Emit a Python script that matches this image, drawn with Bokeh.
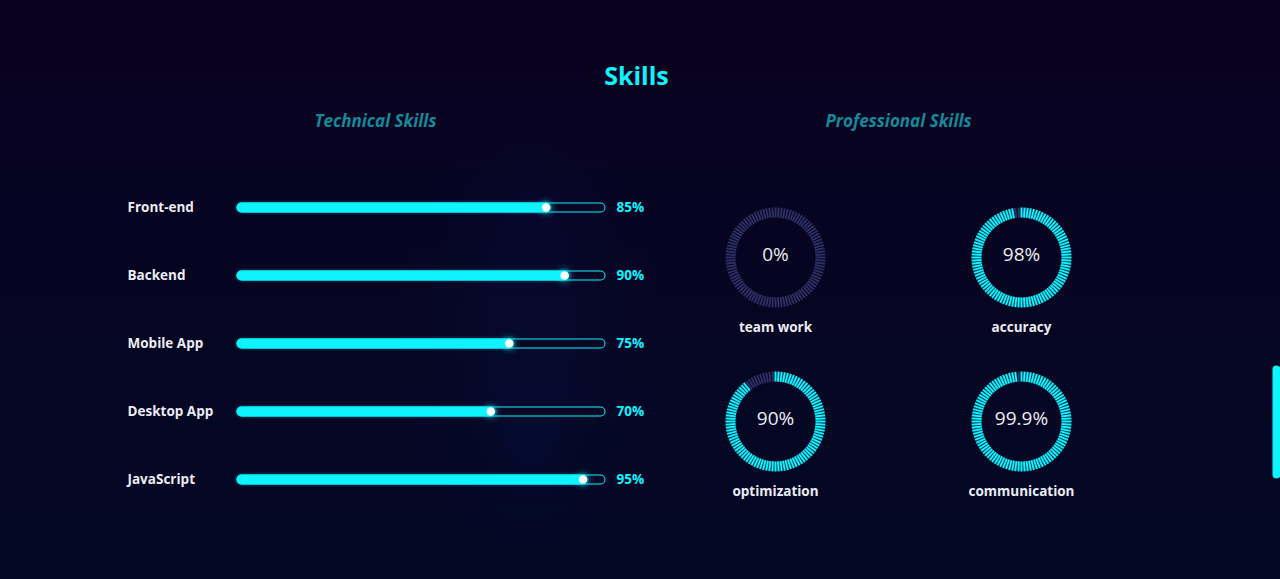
import numpy as np
from bokeh.plotting import figure
from bokeh.models import Range1d
from bokeh.embed import file_html
from bokeh.resources import INLINE
from bokeh.core.properties import value

# ---------------- data ----------------
title_text = "Skills"
tech_title = "Technical Skills"
prof_title = "Professional Skills"
tech_skills = ["Front-end", "Backend", "Mobile App", "Desktop App", "JavaScript"]
tech_values = [85, 90, 75, 70, 95]
prof_skills = ["team work", "accuracy", "optimization", "communication"]
prof_values = [0, 98, 90, 99.9]
prof_labels = ["0%", "98%", "90%", "99.9%"]

# ---------------- style ----------------
W, H = 1280, 579
CYAN = "#0ef4ff"
TEAL = "#14899a"
WHITE = "#ececf4"
DIM = "#2e3064"
FONT = "Open Sans"
BG = "#08041f"

p = figure(width=W, height=H, x_range=Range1d(0, W), y_range=Range1d(H, 0),
           output_backend="svg", toolbar_location=None, min_border=0)
p.axis.visible = False
p.grid.visible = False
p.outline_line_color = None
p.background_fill_color = BG
p.border_fill_color = BG

# background vertical gradient
n = 64
top = np.array([10, 2, 31])
bot = np.array([3, 9, 37])
img = np.zeros((n, 1), dtype=np.uint32)
view = img.view(dtype=np.uint8).reshape((n, 1, 4))
for r in range(n):
    t = r / (n - 1)
    c = top * (1 - t) + bot * t
    view[r, 0, 0:3] = c.astype(np.uint8)
    view[r, 0, 3] = 255
p.image_rgba(image=[img], x=-10, y=-10, dw=W + 20, dh=H + 20)

# soft glow behind bars
for ww, hh, a in [(260, 420, 0.025), (200, 380, 0.03), (140, 330, 0.035), (90, 280, 0.035)]:
    p.ellipse(x=530, y=330, width=ww, height=hh, fill_color="#1b3a8a", fill_alpha=a, line_color=None)

# titles
p.text(x=[636], y=[74], text=[title_text], text_color=CYAN, text_font=value(FONT),
       text_font_style="bold", text_font_size="25px", text_align="center", text_baseline="middle")
p.text(x=[375, 898], y=[120, 120], text=[tech_title, prof_title], text_color=TEAL,
       text_font=value(FONT), text_font_style="bold italic", text_font_size="17px",
       text_align="center", text_baseline="middle")

# ---------------- technical bars ----------------
x0, x1 = 236, 605
ys = [207 + 68 * i for i in range(len(tech_skills))]
xf = [x0 + v / 100 * (x1 - x0) for v in tech_values]
ty = [y - 1 for y in ys]

p.text(x=[127] * len(ys), y=ty, text=tech_skills, text_color=WHITE, text_font=value(FONT),
       text_font_style="bold", text_font_size="13.5px", text_align="left", text_baseline="middle")
p.text(x=[616] * len(ys), y=ty, text=[f"{v}%" for v in tech_values], text_color=CYAN,
       text_font=value(FONT), text_font_style="bold", text_font_size="13.5px",
       text_align="left", text_baseline="middle")

# track outline
p.segment(x0=[x0 + 5] * len(ys), x1=[x1 - 5] * len(ys), y0=ys, y1=ys,
          line_color=CYAN, line_width=10, line_cap="round")
p.segment(x0=[x0 + 5] * len(ys), x1=[x1 - 5] * len(ys), y0=ys, y1=ys,
          line_color="#070624", line_width=8, line_cap="round")
# fill glow + fill
p.segment(x0=[x0 + 5] * len(ys), x1=[f - 5 for f in xf], y0=ys, y1=ys,
          line_color=CYAN, line_alpha=0.10, line_width=14, line_cap="round")
p.segment(x0=[x0 + 5] * len(ys), x1=[f - 5 for f in xf], y0=ys, y1=ys,
          line_color=CYAN, line_width=10, line_cap="round")
# knob
kx = [f - 4 for f in xf]
for rr, a in [(11, 0.06), (8, 0.12), (6, 0.25)]:
    p.circle(x=kx, y=ys, radius=rr, fill_color=CYAN, fill_alpha=a, line_color=None)
p.circle(x=kx, y=ys, radius=4.3, fill_color="#f4ffff", line_color=None)

# ---------------- professional circles ----------------
cx = [775, 1021, 775, 1021]
cy = [257, 257, 421, 421]
r_in, r_out = 40, 50
nt = 100
ax0, ax1, ay0, ay1, acol = [], [], [], [], []
gx0, gx1, gy0, gy1 = [], [], [], []
for c_x, c_y, v in zip(cx, cy, prof_values):
    for i in range(nt):
        th = np.pi / 2 - i * 2 * np.pi / nt
        xa, ya = c_x + r_in * np.cos(th), c_y - r_in * np.sin(th)
        xb, yb = c_x + r_out * np.cos(th), c_y - r_out * np.sin(th)
        active = (i + 1) <= v
        ax0.append(xa); ax1.append(xb); ay0.append(ya); ay1.append(yb)
        acol.append(CYAN if active else DIM)
        if active:
            gx0.append(xa); gx1.append(xb); gy0.append(ya); gy1.append(yb)

p.segment(x0=gx0, x1=gx1, y0=gy0, y1=gy1, line_color=CYAN, line_alpha=0.10, line_width=5)
p.segment(x0=ax0, x1=ax1, y0=ay0, y1=ay1, line_color=acol, line_width=1.9)

p.text(x=cx, y=[y - 4 for y in cy], text=prof_labels, text_color=WHITE, text_font=value(FONT),
       text_font_size="19px", text_align="center", text_baseline="middle")
p.text(x=cx, y=[y + 69 for y in cy], text=prof_skills, text_color=WHITE, text_font=value(FONT),
       text_font_style="bold", text_font_size="13.5px", text_align="center", text_baseline="middle")

# scrollbar
p.segment(x0=[1276], x1=[1276], y0=[369], y1=[474], line_color=CYAN, line_width=8, line_cap="round")

html = file_html(p, INLINE)
html = html.replace("<body>", '<body style="margin:0;padding:0;background:%s">' % BG, 1)
html = html.replace("</head>", "<style>html,body{margin:0;padding:0;background:%s;overflow:hidden}</style></head>" % BG, 1)
open("out.html", "w").write(html)
